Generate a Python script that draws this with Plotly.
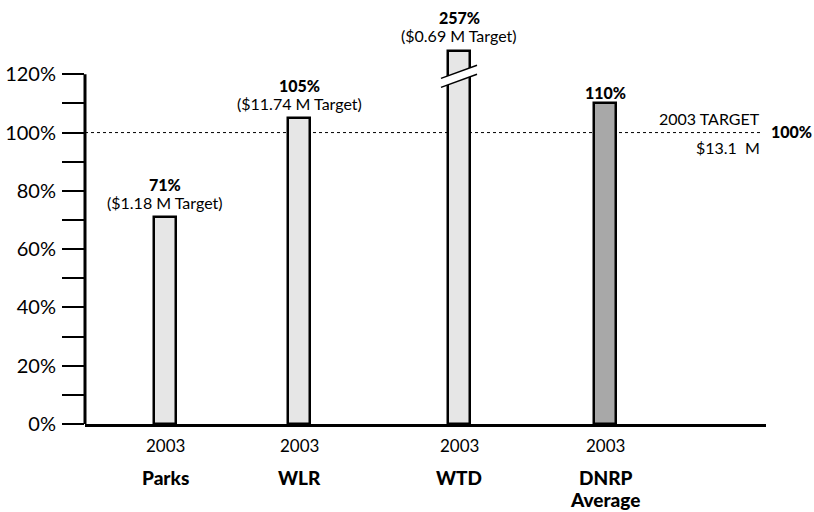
import plotly.graph_objects as go

# Share of 2003 target achieved, by division
categories = ["Parks", "WLR", "WTD", "DNRP"]
category_sublines = ["", "", "", "Average"]
years = ["2003", "2003", "2003", "2003"]
pct_of_target = [71, 105, 257, 110]
target_notes = ["($1.18 M Target)", "($11.74 M Target)", "($0.69 M Target)", ""]
target_total = "$13.1  M"
target_label = "2003 TARGET"
target_pct = "100%"

y_tickvals = [0, 10, 20, 30, 40, 50, 60, 70, 80, 90, 100, 110, 120]
y_ticktext = ["0%", "", "20%", "", "40%", "", "60%", "", "80%", "", "100%", "", "120%"]

# layout: x axis in pixel-like units so bar centres sit where wanted
X_POS = [80, 214, 374, 520]
X_MAX = 681
BAR_W = 22
Y_MAX = 140
BREAK_CAP = 128          # bars above this are drawn broken at the cap
FILLS = ["#e6e6e6", "#e6e6e6", "#e6e6e6", "#a8a8a8"]
FONT = "Lato, 'Noto Sans', sans-serif"

shown = [min(v, BREAK_CAP) for v in pct_of_target]

fig = go.Figure()
fig.add_trace(go.Bar(
    x=X_POS, y=shown, width=BAR_W,
    marker=dict(color=FILLS, line=dict(color="black", width=2.5)),
    hoverinfo="skip",
))

shapes = [
    # y axis line up to the top tick
    dict(type="line", xref="paper", yref="y", x0=0, x1=0, y0=0, y1=120,
         line=dict(color="black", width=3), layer="above"),
    # target reference line
    dict(type="line", xref="x", yref="y", x0=0, x1=677, y0=100, y1=100,
         line=dict(color="black", width=1, dash="3px,3px"), layer="below"),
]


def text_note(x, y, text, size, xref="x", yref="y", weight="normal", **kw):
    return dict(x=x, y=y, xref=xref, yref=yref, text=text, showarrow=False,
                font=dict(family=FONT, size=size, color="black", weight=weight), **kw)


annotations = []
for xp, v, h, note, cat, sub, yr in zip(X_POS, pct_of_target, shown, target_notes,
                                        categories, category_sublines, years):
    annotations.append(text_note(xp, h, f"{v}%", 16, weight=900,
                                 yanchor="middle", yshift=33 if note else 11))
    if note:
        annotations.append(text_note(xp, h, note, 16, yanchor="middle", yshift=15))
    annotations.append(text_note(xp, 0, yr, 17, yref="paper",
                                 yanchor="middle", yshift=-21))
    annotations.append(text_note(xp, 0, cat, 19, yref="paper", weight=900,
                                 yanchor="middle", yshift=-53))
    if sub:
        annotations.append(text_note(xp, 0, sub, 19, yref="paper", weight=900,
                                     yanchor="middle", yshift=-75))
    if v > BREAK_CAP:
        # axis-break symbol across the bar
        hx = 18
        up = (BREAK_CAP - 9.4, BREAK_CAP - 4.9)
        lo = (BREAK_CAP - 12.5, BREAK_CAP - 8.0)
        shapes.append(dict(
            type="path", xref="x", yref="y", layer="above",
            path=f"M {xp-hx},{lo[0]} L {xp+hx},{lo[1]} L {xp+hx},{up[1]} L {xp-hx},{up[0]} Z",
            fillcolor="white", line=dict(width=0)))
        for a, b in (up, lo):
            shapes.append(dict(type="line", xref="x", yref="y", layer="above",
                               x0=xp - hx, x1=xp + hx, y0=a, y1=b,
                               line=dict(color="black", width=1.5)))

annotations += [
    text_note(677, 100, target_label, 16, xanchor="right", yanchor="middle", yshift=14),
    text_note(677, 100, target_total, 16, xanchor="right", yanchor="middle", yshift=-15),
    text_note(1, 100, target_pct, 16, xref="paper", weight=900,
              xanchor="left", yanchor="middle", xshift=3, yshift=1),
]

fig.update_layout(
    width=814, height=512,
    margin=dict(l=85, r=48, t=16, b=88, autoexpand=False),
    paper_bgcolor="white", plot_bgcolor="white",
    showlegend=False, bargap=0,
    shapes=shapes, annotations=annotations,
    xaxis=dict(range=[0, X_MAX], showgrid=False, zeroline=False, automargin=False,
               showline=True, linecolor="black", linewidth=3,
               showticklabels=False, ticks="", fixedrange=True),
    yaxis=dict(range=[0, Y_MAX], showgrid=False, zeroline=False, showline=False,
               automargin=False,
               tickmode="array", tickvals=y_tickvals, ticktext=y_ticktext,
               ticks="outside", ticklen=22, tickwidth=2, tickcolor="black",
               ticklabelstandoff=2,
               tickfont=dict(family=FONT, size=20, color="black"), fixedrange=True),
)

fig.write_html("out.html")
